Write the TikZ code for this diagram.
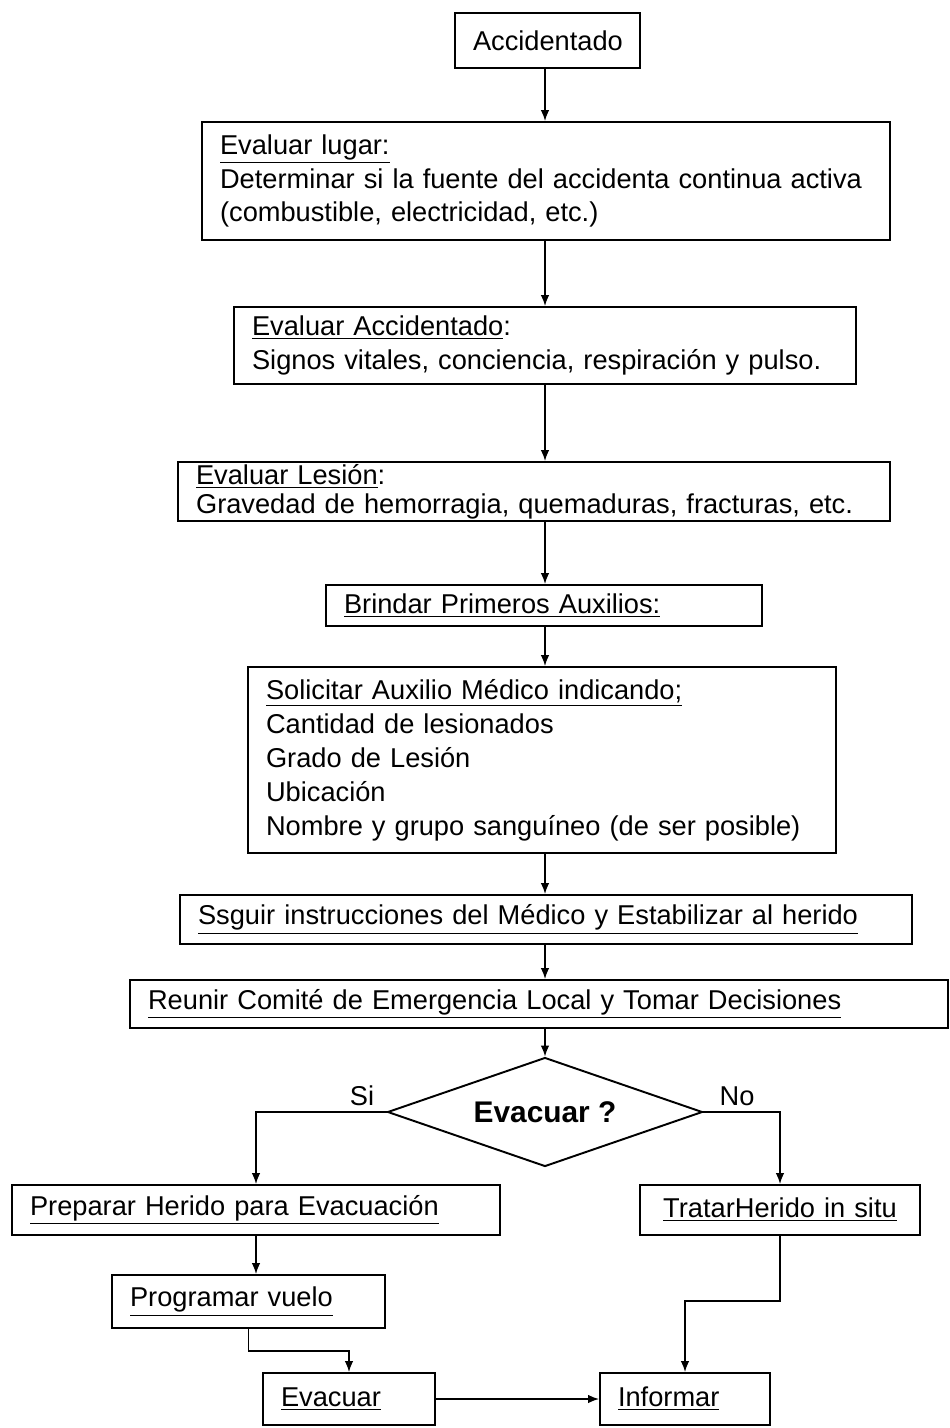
\documentclass[tikz,border=0pt]{standalone}
\usepackage{fontspec}
\setmainfont{Liberation Sans}
\usetikzlibrary{arrows.meta,calc,positioning,shapes.geometric}
\tikzset{
  box/.style={draw,line width=1.1pt,inner xsep=0.36cm,inner ysep=0pt,align=left,
    font=\fontsize{15.5}{19.3}\selectfont},
  decide/.style={diamond,aspect=2.9,draw,line width=1.1pt,inner sep=0pt,
    font=\fontsize{17}{20}\selectfont\bfseries},
  arr/.style={-{Latex[length=2.2mm,width=1.7mm]},line width=0.8pt},
  lbl/.style={font=\fontsize{15.5}{19}\selectfont}
}

\begin{document}
\begin{tikzpicture}[x=0.02cm,y=-0.02cm]
\useasboundingbox (0,0) rectangle (950,1428);
\coordinate (spine) at (545,0);
% main column
\node[box,minimum height=1.1cm,text width=2.98cm] (acc) at (547.5,40.5) {Accidentado};
\node[box,minimum height=2.36cm,text width=13.04cm] (lugar) at (546,181)
  {\underline{Evaluar lugar:}\\Determinar si la fuente del accidenta continua activa\\(combustible, electricidad, etc.)};
\node[box,minimum height=1.54cm,text width=11.72cm] (evacc) at (545,345.5)
  {\underline{Evaluar Accidentado}:\\Signos vitales, conciencia, respiración y pulso.};
\node[box,minimum height=1.18cm,text width=13.52cm,font=\fontsize{15.5}{16.5}\selectfont] (lesion) at (534,491.5)
  {\underline{Evaluar Lesión}:\\Gravedad de hemorragia, quemaduras, fracturas, etc.};
\node[box,minimum height=0.82cm,text width=8.0cm] (brindar) at (544,605.5)
  {\underline{Brindar Primeros Auxilios:}};
\node[box,minimum height=3.72cm,text width=11.04cm] (solic) at (542,760)
  {\underline{Solicitar Auxilio Médico indicando;}\\Cantidad de lesionados\\Grado de Lesión\\Ubicación\\Nombre y grupo sanguíneo (de ser posible)};
\node[box,minimum height=0.98cm,text width=13.92cm] (seguir) at (546,919.5)
  {\underline{Ssguir instrucciones del Médico y Estabilizar al herido}};
\node[box,minimum height=0.96cm,text width=15.64cm] (reunir) at (539,1004)
  {\underline{Reunir Comité de Emergencia Local y Tomar Decisiones}};
\node[decide,minimum width=6.3cm,minimum height=2.18cm] (dec) at (545,1112) {Evacuar ?};
% branches
\node[box,minimum height=1.0cm,text width=9.04cm] (prep) at (256,1210)
  {\underline{Preparar Herido para Evacuación}};
\node[box,minimum height=1.0cm,text width=4.88cm,align=center] (trat) at (780,1210)
  {\underline{TratarHerido in situ}};
\node[box,minimum height=1.06cm,text width=4.74cm] (prog) at (248.5,1301.5)
  {\underline{Programar vuelo}};
\node[box,minimum height=1.04cm,text width=2.72cm] (evac) at (349,1399) {\underline{Evacuar}};
\node[box,minimum height=1.04cm,text width=2.68cm] (inf) at (685,1399) {\underline{Informar}};
% connectors
\draw[arr] (acc.south -| spine) -- (lugar.north -| spine);
\draw[arr] (lugar.south -| spine) -- (evacc.north -| spine);
\draw[arr] (evacc.south -| spine) -- (lesion.north -| spine);
\draw[arr] (lesion.south -| spine) -- (brindar.north -| spine);
\draw[arr] (brindar.south -| spine) -- (solic.north -| spine);
\draw[arr] (solic.south -| spine) -- (seguir.north -| spine);
\draw[arr] (seguir.south -| spine) -- (reunir.north -| spine);
\draw[arr] (reunir.south -| spine) -- (dec.north);
\draw[arr] (dec.west) -| (prep.north);
\draw[arr] (dec.east) -| (trat.north);
\node[lbl] (si) at (362,1096) {Si};
\node[lbl] (no) at (737,1096) {No};
\draw[arr] (prep.south) -- (prep.south |- prog.north);
\draw[arr] (prog.south) -- ++(0,22) -| (evac.north);
\draw[arr] (trat.south) -- ++(0,65) -| (inf.north);
\draw[arr] (evac.east) -- (inf.west);
\end{tikzpicture}
\end{document}
